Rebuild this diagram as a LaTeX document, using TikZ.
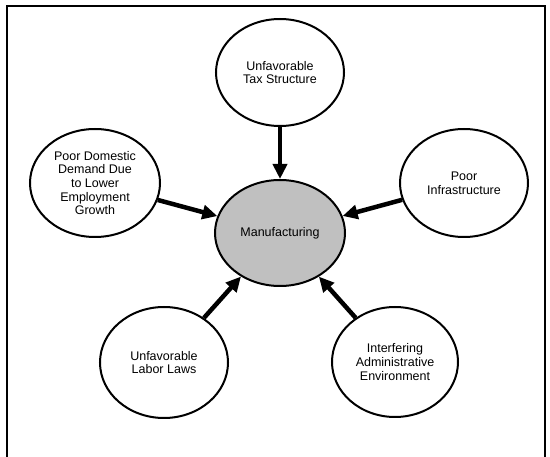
\documentclass[tikz,border=0pt]{standalone}
\usepackage{fontspec}
\setmainfont{Liberation Sans}
\usetikzlibrary{arrows.meta,shapes.geometric}
\definecolor{mangray}{RGB}{192,192,192}
\tikzset{
  ell/.style={ellipse, draw=black, line width=2pt, fill=white, inner sep=0pt,
    minimum width=128pt, minimum height=108pt, align=center,
    font=\fontsize{12.5}{13.7}\selectfont},
  hub/.style={ell, fill=mangray},
  conn/.style={line width=4.5pt, -{Triangle[length=15pt,width=14pt]}},
  frame/.style={line width=2pt}
}
\begin{document}
\begin{tikzpicture}[x=1pt,y=-1pt]
\useasboundingbox (0,0) rectangle (550,457);
\draw[frame] (7,470) -- (7,6) -- (545,6) -- (545,470);
\node[hub, minimum width=130pt, minimum height=106pt] (man) at (280,233) {Manufacturing};
\node[ell, minimum height=107pt] (tax) at (280,72.5) {Unfavorable\\Tax Structure};
\node[ell, minimum width=130pt] (dom) at (95,183) {Poor Domestic\\Demand Due\\to Lower\\Employment\\Growth};
\node[ell] (inf) at (464,183) {Poor\\Infrastructure};
\node[ell, minimum height=111pt] (lab) at (164,362.5) {Unfavorable\\Labor Laws};
\node[ell, minimum width=126pt, minimum height=110pt] (adm) at (395,362) {Interfering\\Administrative\\Environment};
\draw[conn] (tax) -- (man);
\draw[conn] (dom) -- (man);
\draw[conn] (inf) -- (man);
\draw[conn] (lab) -- (man);
\draw[conn] (adm) -- (man);
\end{tikzpicture}
\end{document}
